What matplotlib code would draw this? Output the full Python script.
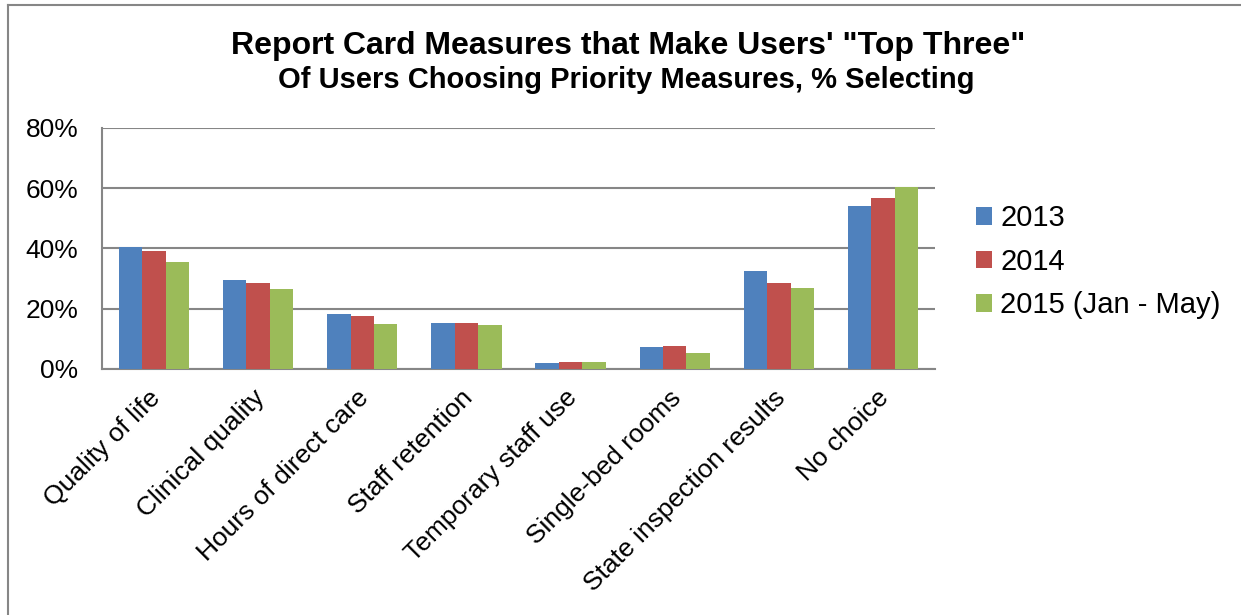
import numpy as np
import matplotlib
matplotlib.use('Agg')
import matplotlib.pyplot as plt
import matplotlib.transforms as mtransforms
from matplotlib.lines import Line2D
from matplotlib.ticker import FuncFormatter

plt.rcParams['font.family'] = ['Liberation Sans', 'DejaVu Sans']

# data (percent selecting)
categories = ['Quality of life', 'Clinical quality', 'Hours of direct care',
              'Staff retention', 'Temporary staff use', 'Single-bed rooms',
              'State inspection results', 'No choice']
series_names = ['2013', '2014', '2015 (Jan - May)']
v2013 = [40.5, 29.7, 18.2, 15.3, 2.1, 7.3, 32.5, 54.2]
v2014 = [39.3, 28.5, 17.5, 15.3, 2.3, 7.6, 28.5, 56.7]
v2015 = [35.5, 26.7, 15.1, 14.7, 2.3, 5.3, 26.8, 60.5]
colors = ['#4F81BD', '#C0504D', '#9BBB59']

fig = plt.figure(figsize=(12.41, 6.15), dpi=100)
ax = fig.add_axes([0.0822, 0.40, 0.6712, 0.3919])

x = np.arange(len(categories))
w = 0.225
for i, (vals, name) in enumerate(zip([v2013, v2014, v2015], series_names)):
    ax.bar(x + (i - 1) * w, vals, width=w, color=colors[i], label=name, zorder=3)

ax.set_xlim(-0.5, len(categories) - 0.5)
ax.set_ylim(0, 80)
ax.set_yticks([0, 20, 40, 60, 80])
ax.yaxis.set_major_formatter(FuncFormatter(lambda v, p: '%d%%' % v))
ax.yaxis.grid(True, color='#868686', linewidth=1.5, zorder=0)
ax.set_axisbelow(True)

ax.set_xticks(x)
ax.set_xticklabels(categories, rotation=45, ha='right', va='top',
                   rotation_mode='anchor', fontsize=19)
ax.tick_params(axis='both', length=0, labelsize=19)
ax.tick_params(axis='y', pad=17)
ax.tick_params(axis='x', pad=12)
# nudge the slanted labels a little to the left, as in the original
shift = mtransforms.ScaledTranslation(-6 / 100, 0, fig.dpi_scale_trans)
for lbl in ax.get_xticklabels():
    lbl.set_transform(lbl.get_transform() + shift)

for s in ['top', 'right']:
    ax.spines[s].set_visible(False)
for s in ['left', 'bottom']:
    ax.spines[s].set_color('#868686')
    ax.spines[s].set_linewidth(1.5)

leg = fig.legend(loc='upper left', bbox_to_anchor=(0.7865, 0.668), frameon=False,
                 fontsize=21, handlelength=0.55, handleheight=0.55,
                 handletextpad=0.28, labelspacing=0.53, borderpad=0,
                 borderaxespad=0)

fig.text(0.506, 0.925, 'Report Card Measures that Make Users\' "Top Three"',
         ha='center', va='center', fontsize=23, fontweight='bold')
fig.text(0.505, 0.870, 'Of Users Choosing Priority Measures, % Selecting',
         ha='center', va='center', fontsize=21, fontweight='bold')

# outer frame (top and left edges visible in the original)
fig.add_artist(Line2D([0.0068, 0.0068], [0.0, 0.9915], transform=fig.transFigure,
                      color='#868686', linewidth=1.5))
fig.add_artist(Line2D([0.0068, 1.0], [0.9915, 0.9915], transform=fig.transFigure,
                      color='#868686', linewidth=1.5))

fig.savefig('out.png', dpi=100)
